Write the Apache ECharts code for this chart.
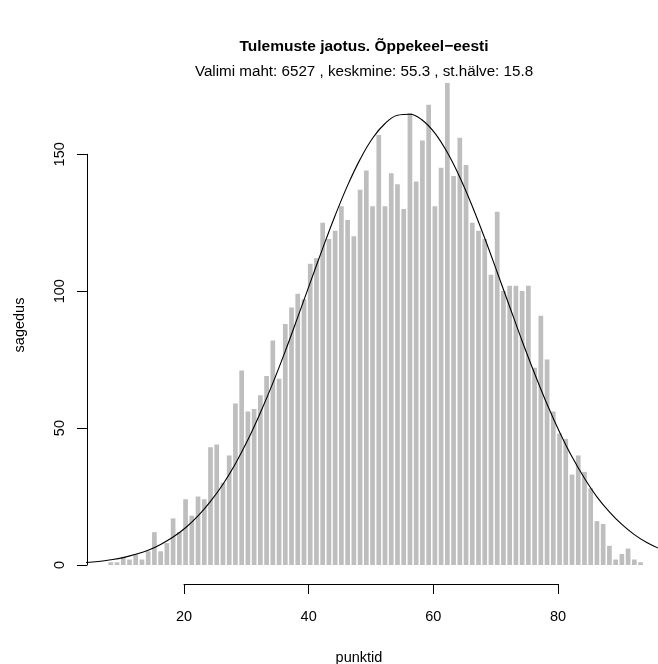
<!DOCTYPE html>
<html>
<head>
<meta charset="utf-8">
<script src="https://cdn.jsdelivr.net/npm/echarts@6/dist/echarts.min.js"></script>
<style>
html,body{margin:0;padding:0;background:#fff;}
#chart{width:658px;height:664px;}
</style>
</head>
<body>
<div id="chart"></div>
<script>
// ---- data ----
var titleText = 'Tulemuste jaotus. Õppekeel\u2212eesti';
var subtitleText = 'Valimi maht: 6527 , keskmine: 55.3 , st.hälve: 15.8';
var xName = 'punktid';
var yName = 'sagedus';

var scores = [8,9,10,11,12,13,14,15,16,17,18,19,20,21,22,23,24,25,26,27,28,29,30,31,32,33,34,35,36,37,38,39,40,41,42,43,44,45,46,47,48,49,50,51,52,53,54,55,56,57,58,59,60,61,62,63,64,65,66,67,68,69,70,71,72,73,74,75,76,77,78,79,80,81,82,83,84,85,86,87,88,89,90,91,92,93];
var counts = [1,1,3,2,4,2,5,12,5,8,17,12,24,18,25,24,43,44,30,40,59,71,56,57,62,69,82,68,88,94,99,97,110,112,125,119,122,131,126,120,137,144,131,157,131,143,139,130,165,140,155,168,131,145,176,142,156,146,125,122,119,106,129,100,102,102,100,102,72,91,75,56,48,46,33,40,34,28,16,15,7,2,4,6,2,1];

// normal curve
var curveX = [4,6,8,10,12,14,16,18,20,22,24,26,28,30,32,34,36,38,40,42,44,46,48,50,52,54,56,58,60,62,64,66,68,70,72,74,76,78,80,82,84,86,88,90,92,94,96];
var curveY = [0.9,1.3,1.9,2.7,3.9,5.4,7.5,10.2,13.6,17.9,23.2,29.5,37.0,45.7,55.6,66.4,78.1,90.5,103.1,115.6,127.6,138.6,148.1,155.8,161.2,164.2,164.6,162.4,157.7,150.6,141.6,131.0,119.3,106.9,94.3,81.8,69.9,58.7,48.6,39.5,31.7,24.9,19.4,14.8,11.1,8.2,6.0];

var xTicks = [20, 40, 60, 80];
var yTicks = [0, 50, 100, 150];

// ---- chart ----
var FONT = '"Liberation Sans", Arial, Helvetica, sans-serif';
var chart = echarts.init(document.getElementById('chart'), null, {renderer: 'canvas'});

var barData = scores.map(function (s, i) { return [s, counts[i]]; });
var curveData = curveX.map(function (x, i) { return [x, curveY[i]]; });

var option = {
  backgroundColor: '#ffffff',
  animation: false,
  title: [
    {text: titleText, left: 359, top: 34, textAlign: 'center',
     textStyle: {fontFamily: FONT, fontSize: 15.5, fontWeight: 'bold', color: '#000'}},
    {text: subtitleText, left: 359, top: 59, textAlign: 'center',
     textStyle: {fontFamily: FONT, fontSize: 15.2, fontWeight: 'normal', color: '#000'}}
  ],
  grid: [
    {left: 87.4, width: 570.3, top: 72, height: 493, outerBoundsMode: 'none'},   // data
    {left: 87, width: 100, top: 154.3, height: 410.7, outerBoundsMode: 'none'},  // y ticks
    {left: 184, width: 374, top: 60, height: 524, outerBoundsMode: 'none'},      // x ticks
    {left: 87, width: 544, top: 66, height: 518, outerBoundsMode: 'none'}        // axis names
  ],
  xAxis: [
    {gridIndex: 0, type: 'value', min: 4.25, max: 95.75, show: false},
    {gridIndex: 1, type: 'value', min: 0, max: 1, show: false},
    {gridIndex: 2, type: 'value', min: xTicks[0], max: xTicks[xTicks.length - 1], interval: 20,
     axisLine: {show: true, onZero: false, lineStyle: {color: '#000', width: 1}},
     axisTick: {show: true, length: 10, lineStyle: {color: '#000', width: 1}},
     axisLabel: {show: true, margin: 25, fontFamily: FONT, fontSize: 14.5, color: '#000'},
     splitLine: {show: false}},
    {gridIndex: 3, type: 'value', min: 0, max: 1,
     axisLine: {show: false}, axisTick: {show: false}, axisLabel: {show: false}, splitLine: {show: false},
     name: xName, nameLocation: 'middle', nameGap: 66,
     nameTextStyle: {fontFamily: FONT, fontSize: 14.5, color: '#000'}}
  ],
  yAxis: [
    {gridIndex: 0, type: 'value', min: 0, max: 180, show: false},
    {gridIndex: 1, type: 'value', min: yTicks[0], max: yTicks[yTicks.length - 1], interval: 50,
     axisLine: {show: true, onZero: false, lineStyle: {color: '#000', width: 1}},
     axisTick: {show: true, length: 10, lineStyle: {color: '#000', width: 1}},
     axisLabel: {show: true, rotate: 90, margin: 20, align: 'center', verticalAlign: 'bottom',
                 fontFamily: FONT, fontSize: 14.5, color: '#000'},
     splitLine: {show: false}},
    {gridIndex: 2, type: 'value', min: 0, max: 1, show: false},
    {gridIndex: 3, type: 'value', min: 0, max: 1,
     axisLine: {show: false}, axisTick: {show: false}, axisLabel: {show: false}, splitLine: {show: false},
     name: yName, nameLocation: 'middle', nameGap: 60, nameRotate: 90,
     nameTextStyle: {fontFamily: FONT, fontSize: 14.5, color: '#000'}}
  ],
  series: [
    {type: 'bar', xAxisIndex: 0, yAxisIndex: 0, data: barData, barWidth: 4.7,
     itemStyle: {color: '#bebebe'}, silent: true},
    {type: 'line', xAxisIndex: 0, yAxisIndex: 0, data: curveData, smooth: 0.4,
     showSymbol: false, lineStyle: {color: '#000', width: 1.1}, silent: true}
  ]
};
chart.setOption(option);
</script>
</body>
</html>
